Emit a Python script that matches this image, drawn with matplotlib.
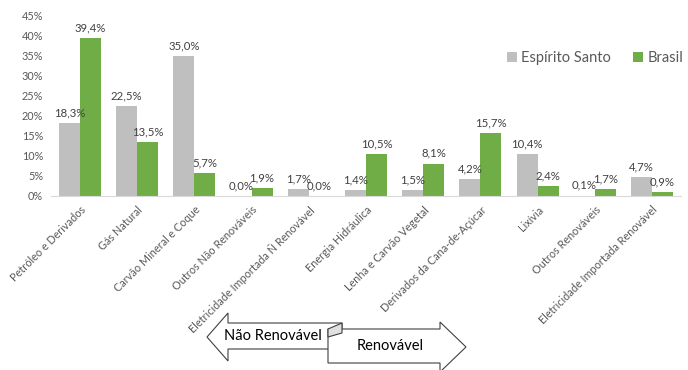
import numpy as np
import matplotlib.pyplot as plt
from matplotlib.patches import Polygon

categories = ['Petróleo e Derivados', 'Gás Natural', 'Carvão Mineral e Coque',
              'Outros Não Renováveis', 'Eletricidade Importada Ñ Renovável',
              'Energia Hidráulica', 'Lenha e Carvão Vegetal',
              'Derivados da Cana-de-Açúcar', 'Lixívia', 'Outros Renováveis',
              'Eletricidade Importada Renovável']
espirito_santo = [18.3, 22.5, 35.0, 0.0, 1.7, 1.4, 1.5, 4.2, 10.4, 0.1, 4.7]
brasil = [39.4, 13.5, 5.7, 1.9, 0.0, 10.5, 8.1, 15.7, 2.4, 1.7, 0.9]

plt.rcParams['font.family'] = ['Lato', 'DejaVu Sans']

W, H = 688, 370
fig = plt.figure(figsize=(W / 100, H / 100), dpi=100)
ax = fig.add_axes([51.4 / W, 1 - 196 / H, 629.2 / W, 180 / H])

x = np.arange(len(categories))
w = 0.367
gray, green = '#BFBFBF', '#70AD47'
b1 = ax.bar(x - w / 2, np.array(espirito_santo) / 100, w, color=gray, label='Espírito Santo')
b2 = ax.bar(x + w / 2, np.array(brasil) / 100, w, color=green, label='Brasil')

for bars, vals in ((b1, espirito_santo), (b2, brasil)):
    for b, v in zip(bars, vals):
        ax.annotate(f'{v:.1f}%'.replace('.', ','), (b.get_x() + b.get_width() / 2, v / 100),
                    xytext=(0, 3.5), textcoords='offset points', ha='center', va='bottom',
                    fontsize=8.2, color='#404040')

ax.set_xlim(-0.5, len(categories) - 0.5)
ax.set_ylim(0, 0.45)
ax.set_yticks(np.arange(0, 0.46, 0.05))
ax.set_yticklabels([f'{int(round(t * 100))}%' for t in np.arange(0, 0.46, 0.05)])
ax.set_xticks(x)
ax.set_xticklabels(categories, rotation=45, ha='right', rotation_mode='anchor')
ax.tick_params(axis='both', length=0, labelsize=7.8, labelcolor='#595959')
ax.tick_params(axis='y', pad=6)
ax.tick_params(axis='x', pad=6)
for s in ['top', 'right', 'left']:
    ax.spines[s].set_visible(False)
ax.spines['bottom'].set_color('#D9D9D9')

fig.legend(handles=[b1, b2], loc='center', bbox_to_anchor=(595 / W, 1 - 58 / H),
           ncol=2, frameon=False, fontsize=10.5, labelcolor='#595959',
           handlelength=0.7, handleheight=0.7, handletextpad=0.3, columnspacing=1.5)

# arrows under the chart, in pixel coordinates
ov = fig.add_axes([0, 0, 1, 1], zorder=-1)
ov.set_xlim(0, W)
ov.set_ylim(H, 0)
ov.axis('off')
ov.patch.set_alpha(0)

left_arrow = [(207, 337), (228, 313), (228, 323), (342, 323), (342, 349),
              (228, 349), (228, 361)]
ov.add_patch(Polygon(left_arrow, closed=True, fc='white', ec='#404040', lw=0.8))
right_arrow = [(328, 329), (440, 329), (440, 322), (466, 347), (440, 372),
               (440, 363), (328, 363)]
ov.add_patch(Polygon(right_arrow, closed=True, fc='white', ec='#404040', lw=0.8))
ov.add_patch(Polygon([(328, 329), (342, 323), (342, 333), (328, 337)], closed=True,
                     fc='#E0E0E0', ec='#404040', lw=0.8))
ov.text(273, 336, 'Não Renovável', ha='center', va='center', fontsize=10.5, color='black')
ov.text(390, 346, 'Renovável', ha='center', va='center', fontsize=10.5, color='black')

fig.savefig('out.png', dpi=100)
